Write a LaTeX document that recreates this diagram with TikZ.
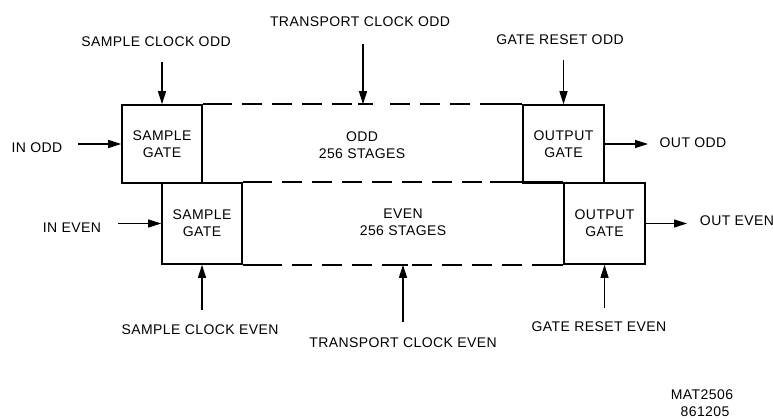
\documentclass[tikz,border=0pt]{standalone}
\usepackage{fontspec}
\setmainfont[LetterSpace=3]{Liberation Sans}
\usetikzlibrary{arrows.meta}
\begin{document}
\begin{tikzpicture}[x=1pt,y=-1pt,
  every node/.style={font=\fontsize{14}{17}\selectfont, inner sep=0pt},
  gatebox/.style={draw, line width=1.6pt, minimum height=79pt, align=center},
  bl/.style={line width=1.6pt},
  dl/.style={dash pattern=on 20pt off 10pt, dash phase=20pt},
  arr/.style={line width=1.2pt, -{Triangle[length=13pt,width=8pt]}},
  lbl/.style={align=center}]
\useasboundingbox (0,0) rectangle (773,419);

% gates
\node[gatebox, minimum width=80pt, minimum height=78pt] (sgo) at (162,144) {SAMPLE\\GATE};
\node[gatebox, minimum width=81pt, minimum height=78pt] (ogo) at (563.5,144) {OUTPUT\\GATE};
\node[gatebox, minimum width=80pt, minimum height=81pt] (sge) at (202,223.5) {SAMPLE\\GATE};
\node[gatebox, minimum width=81pt, minimum height=81pt] (oge) at (604.5,223.5) {OUTPUT\\GATE};

% register texts
\node[lbl] (oddst) at (362,145) {ODD\\256 STAGES};
\node[lbl] (evenst) at (403,222) {EVEN\\256 STAGES};

% odd top line
\draw[bl] (sgo.north east) -- (232,0 |- sgo.north);
\draw[bl,dl] (232,0 |- sgo.north) -- (362,0 |- sgo.north);
\draw[bl] (358,0 |- sgo.north) -- (373,0 |- sgo.north);
\draw[bl,dl] (380,0 |- sgo.north) -- (480,0 |- sgo.north);
\draw[bl] (480,0 |- sgo.north) -- (ogo.north west);

% middle line
\draw[bl] (sge.north east) -- (272,0 |- sge.north);
\draw[bl,dl] (272,0 |- sge.north) -- (490,0 |- sge.north);
\draw[bl] (490,0 |- sge.north) -- (oge.north west);

% even bottom line
\draw[bl] (sge.south east) -- (282,0 |- sge.south);
\draw[bl,dl] (282,0 |- sge.south) -- (383,0 |- sge.south);
\draw[bl] (383,0 |- sge.south) -- (408,0 |- sge.south);
\draw[bl,dl] (402,0 |- sge.south) -- (532,0 |- sge.south);
\draw[bl] (532,0 |- sge.south) -- (oge.south west);

% labels
\node (lsco) at (156,42) {SAMPLE CLOCK ODD};
\node (ltco) at (360,22) {TRANSPORT CLOCK ODD};
\node (lgro) at (560,40) {GATE RESET ODD};
\node (lino) at (37,148) {IN ODD};
\node (louto) at (693,143) {OUT ODD};
\node (line) at (72,228) {IN EVEN};
\node (loute) at (737,221) {OUT EVEN};
\node (lsce) at (200,330) {SAMPLE CLOCK EVEN};
\node (ltce) at (403,343) {TRANSPORT CLOCK EVEN};
\node (lgre) at (599,327) {GATE RESET EVEN};
\node[lbl] (lmat) at (702,403) {MAT2506\\\hspace*{6pt}861205};

% arrow ends
\coordinate (sco) at (sgo.north |- 0,62);
\coordinate (tco) at (363,44);
\coordinate (gro) at (ogo.north |- 0,60);
\coordinate (ino) at (78,0 |- sgo.west);
\coordinate (outo) at (648,0 |- ogo.east);
\coordinate (ine) at (118,0 |- sge.west);
\coordinate (oute) at (687,0 |- oge.east);
\coordinate (sce) at (sge.south |- 0,310);
\coordinate (tce) at (403,322);
\coordinate (gre) at (oge.south |- 0,308);

% arrows
\draw[arr] (sco) -- (sgo.north);
\draw[arr] (tco) -- (tco |- sgo.north);
\draw[arr] (gro) -- (ogo.north);
\draw[arr] (ino) -- (sgo.west);
\draw[arr] (ogo.east) -- (outo);
\draw[arr] (ine) -- (sge.west);
\draw[arr] (oge.east) -- (oute);
\draw[arr] (sce) -- (sge.south);
\draw[arr] (tce) -- (tce |- sge.south);
\draw[arr] (gre) -- (oge.south);
\end{tikzpicture}
\end{document}
